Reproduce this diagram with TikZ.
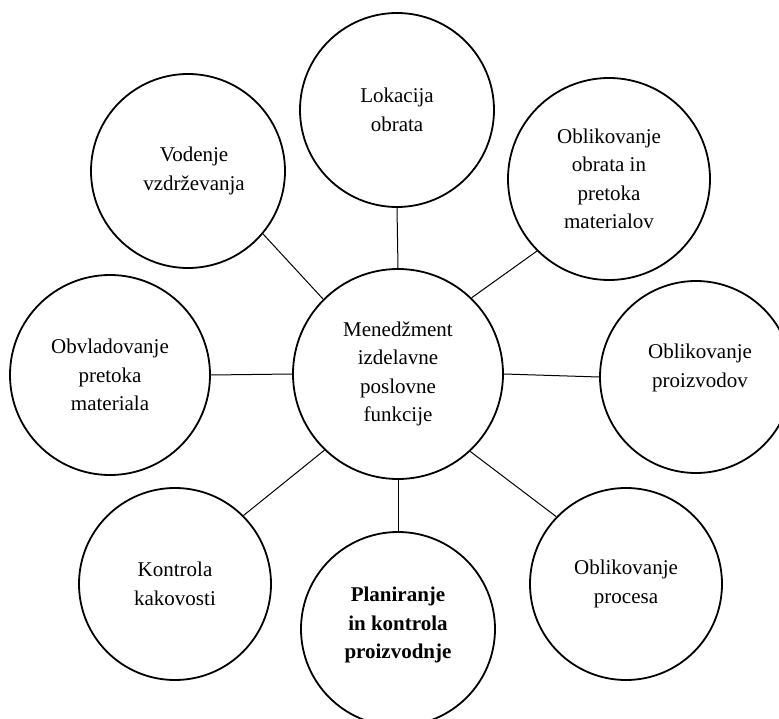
\documentclass[tikz,border=0pt]{standalone}
\usepackage{fontspec}
\setmainfont{Liberation Serif}
\begin{document}
\begin{tikzpicture}[x=1pt, y=-1pt,
  bubble/.style={circle, draw, line width=1.8pt, inner sep=0pt, minimum size=#1,
    align=center, font=\fontsize{21}{28.5}\selectfont},
  caption/.style={align=center, inner sep=0pt, font=\fontsize{21}{28.5}\selectfont},
  link/.style={line width=1pt}]
  \useasboundingbox (0,0) rectangle (779,719);
  \clip (0,0) rectangle (779,719);

  % hub
  \node[bubble=210pt] (mgmt) at (398,374) {Menedžment\\izdelavne\\poslovne\\funkcije};

  % surrounding functions
  \node[bubble=194pt] (lok) at (397,110) {Lokacija\\obrata};
  \node[bubble=194pt, label={[caption, xshift=6pt]center:Vodenje\\vzdrževanja}] (vod) at (188,171) {};
  \node[bubble=202pt] (obr) at (609,179) {Oblikovanje\\obrata in\\pretoka\\materialov};
  \node[bubble=200pt] (obv) at (110,375) {Obvladovanje\\pretoka\\materiala};
  \node[bubble=192pt, label={[caption, xshift=4pt, yshift=9pt]center:Oblikovanje\\proizvodov}] (prz) at (696,377) {};
  \node[bubble=192pt] (kon) at (175,584) {Kontrola\\kakovosti};
  \node[bubble=194pt, label={[caption, yshift=4pt, font=\fontsize{21}{28.5}\selectfont\bfseries]center:Planiranje\\in kontrola\\proizvodnje}] (pla) at (398,629) {};
  \node[bubble=192pt] (pro) at (626,584) {Oblikovanje\\procesa};

  % spokes
  \draw[link] (mgmt.90)  -- (lok.270);
  \draw[link] (mgmt.135) -- (vod.-40);
  \draw[link] (mgmt.46)  -- (obr.225);
  \draw[link] (mgmt.180) -- (obv.0);
  \draw[link] (mgmt.0)   -- (prz.180);
  \draw[link] (mgmt.226) -- (kon.45);
  \draw[link] (mgmt.270) -- (pla.90);
  \draw[link] (mgmt.313) -- (pro.136);
\end{tikzpicture}
\end{document}
